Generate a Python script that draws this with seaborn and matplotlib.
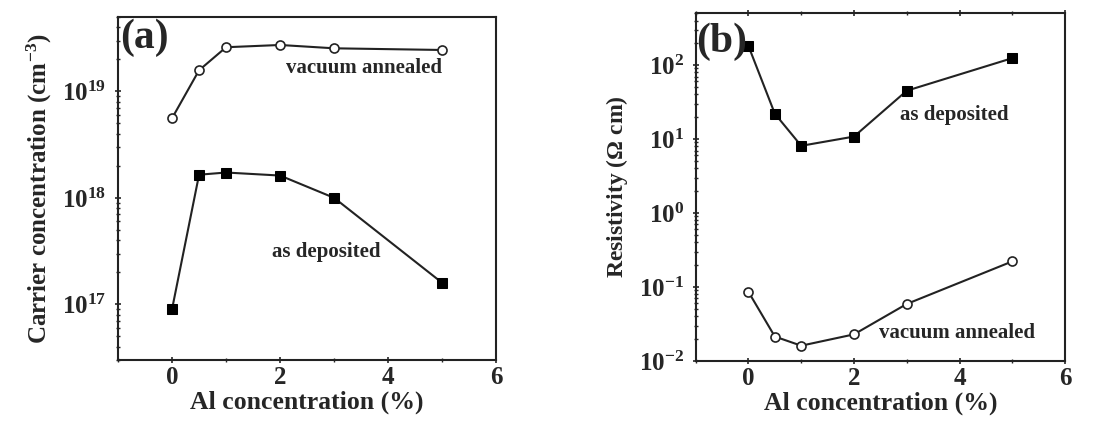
import numpy as np
import pandas as pd
import matplotlib
matplotlib.use("Agg")
import matplotlib.pyplot as plt
import matplotlib.ticker as mticker
import seaborn as sns

# data
al = [0, 0.5, 1, 2, 3, 5]
n_annealed = [5.6e18, 1.58e19, 2.6e19, 2.73e19, 2.54e19, 2.45e19]
n_deposited = [9.0e16, 1.65e18, 1.73e18, 1.62e18, 1.0e18, 1.59e17]
rho_deposited = [181, 22, 8.1, 10.8, 45, 124]
rho_annealed = [0.086, 0.0214, 0.0161, 0.0229, 0.059, 0.222]

sns.set_style("ticks")
plt.rcParams["font.family"] = ["Liberation Serif", "DejaVu Serif"]
plt.rcParams["font.weight"] = "bold"
plt.rcParams["mathtext.fontset"] = "custom"
plt.rcParams["mathtext.rm"] = "Liberation Serif:bold"
plt.rcParams["mathtext.it"] = "Liberation Serif:bold"
plt.rcParams["mathtext.bf"] = "Liberation Serif:bold"
plt.rcParams["mathtext.default"] = "rm"

fig = plt.figure(figsize=(11.06, 4.25), dpi=100)
ax1 = fig.add_axes([0.1067, 0.153, 0.342, 0.807])
ax2 = fig.add_axes([0.629, 0.1506, 0.334, 0.818])

sq = dict(marker="s", markersize=6.5, markerfacecolor="black", markeredgecolor="black")
ci = dict(marker="o", markersize=6.5, markerfacecolor="white", markeredgecolor="#222222", markeredgewidth=1.2)

df_a = pd.DataFrame({"al": al, "ann": n_annealed, "dep": n_deposited})
df_b = pd.DataFrame({"al": al, "ann": rho_annealed, "dep": rho_deposited})

sns.lineplot(data=df_a, x="al", y="ann", ax=ax1, color="#222222", lw=1.5, **ci)
sns.lineplot(data=df_a, x="al", y="dep", ax=ax1, color="#222222", lw=1.5, **sq)
sns.lineplot(data=df_b, x="al", y="dep", ax=ax2, color="#222222", lw=1.5, **sq)
sns.lineplot(data=df_b, x="al", y="ann", ax=ax2, color="#222222", lw=1.5, **ci)

for ax in (ax1, ax2):
    ax.set_yscale("log")
    ax.set_xlim(-1, 6)
    ax.set_xticks([0, 2, 4, 6])
    ax.xaxis.set_minor_locator(mticker.MultipleLocator(1))
    ax.yaxis.set_major_locator(mticker.LogLocator(base=10, numticks=20))
    ax.yaxis.set_minor_locator(mticker.LogLocator(base=10, subs=np.arange(2, 10), numticks=20))
    ax.yaxis.set_major_formatter(mticker.LogFormatterMathtext())
    ax.yaxis.set_minor_formatter(mticker.NullFormatter())
    ax.tick_params(which="major", direction="inout", length=5, width=1.2, labelsize=18, pad=6)
    ax.tick_params(axis="x", which="major", pad=2)
    ax.tick_params(which="minor", direction="inout", length=3, width=1)
    for s in ax.spines.values():
        s.set_visible(True)
        s.set_linewidth(1.5)
        s.set_color("#222222")
    ax.set_xlabel("Al concentration (%)", fontsize=18.5, fontweight="bold", labelpad=1)

ax1.set_ylim(3e16, 5e19)
ax2.set_ylim(1e-2, 5e2)
ax2.tick_params(top=True, which="both")

ax1.set_ylabel("Carrier concentration (cm$^{-3}$)", fontsize=18, fontweight="bold", labelpad=6)
ax2.set_ylabel("Resistivity ($\\Omega$ cm)", fontsize=17, fontweight="bold", labelpad=6)

ax1.text(0.005, 0.995, "(a)", transform=ax1.transAxes, ha="left", va="top", fontsize=30, fontweight="bold")
ax2.text(0.0, 0.975, "(b)", transform=ax2.transAxes, ha="left", va="top", fontsize=30, fontweight="bold")

ax1.text(3.55, 1.65e19, "vacuum annealed", ha="center", va="center", fontsize=15, fontweight="bold")
ax1.text(2.86, 3.1e17, "as deposited", ha="center", va="center", fontsize=15, fontweight="bold")
ax2.text(3.9, 21.4, "as deposited", ha="center", va="center", fontsize=15, fontweight="bold")
ax2.text(3.95, 0.0237, "vacuum annealed", ha="center", va="center", fontsize=15, fontweight="bold")

fig.savefig("out.png", dpi=100)
